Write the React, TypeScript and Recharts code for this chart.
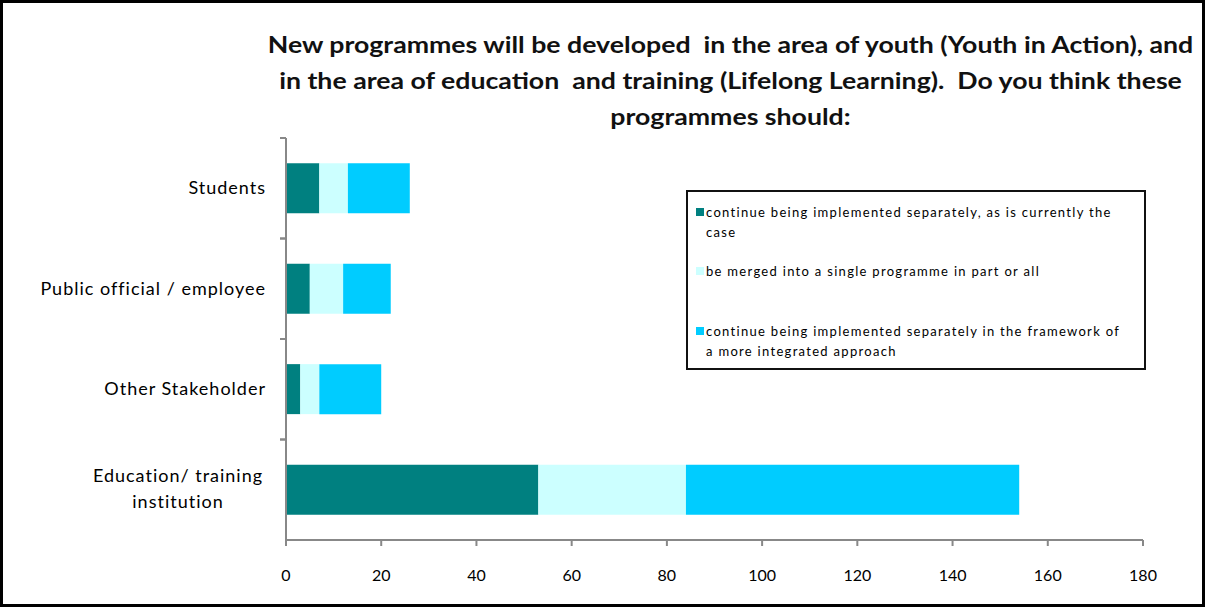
import React from 'react';
import { BarChart, Bar, XAxis, YAxis } from 'recharts';

const categories = ['Students', 'Public official / employee', 'Other Stakeholder', 'Education/ training institution'];
const separately = [7, 5, 3, 53];
const merged = [6, 7, 4, 31];
const integrated = [13, 10, 13, 70];
const xTicks = [0, 20, 40, 60, 80, 100, 120, 140, 160, 180];
const seriesNames = [
  'continue being implemented separately, as is currently the case',
  'be merged into a single programme in part or all',
  'continue being implemented separately in the framework of a more integrated approach',
];
const colors = ['#008080', '#CCFFFF', '#00CCFF'];
const titleLines = [
  'New programmes will be developed  in the area of youth (Youth in Action), and',
  'in the area of education  and training (Lifelong Learning).  Do you think these',
  'programmes should:',
];

const data = categories.map((c, i) => ({
  name: c,
  s0: separately[i],
  s1: merged[i],
  s2: integrated[i],
}));

const FONT = 'Lato, "Open Sans", sans-serif';

const YTick = (props: any) => {
  const { y, payload, index } = props;
  const v: string = payload.value;
  const half = payload && typeof payload.offset === 'number' && payload.offset > 0 ? payload.offset : 50;
  const tickMarks = (
    <g stroke="#888" strokeWidth={2}>
      <line x1={280} x2={286} y1={y - half} y2={y - half} />
      {index === categories.length - 1 ? null : <line x1={280} x2={286} y1={y + half} y2={y + half} />}
    </g>
  );
  if (v === 'Education/ training institution') {
    return (
      <g>
        {tickMarks}
        <text x={178} y={y - 8} textAnchor="middle" fontSize={18} letterSpacing={1} fontFamily={FONT} fill="#000">Education/ training</text>
        <text x={178} y={y + 18} textAnchor="middle" fontSize={18} letterSpacing={1} fontFamily={FONT} fill="#000">institution</text>
      </g>
    );
  }
  return (
    <g>
      {tickMarks}
      <text x={266} y={y} dy={6} textAnchor="end" fontSize={18} letterSpacing={1} fontFamily={FONT} fill="#000">{v}</text>
    </g>
  );
};

const LegendBox = () => (
  <div style={{
    position: 'absolute', left: 683, top: 187, width: 460, height: 180, border: '2px solid #111', boxSizing: 'border-box', background: '#fff',
    fontFamily: FONT, fontSize: 13, letterSpacing: 1.3, color: '#000',
  }}>
    {seriesNames.map((n, i) => (
      <div key={i} style={{ position: 'absolute', left: 8, top: [10, 69, 129][i], width: 440, display: 'flex', lineHeight: '20px' }}>
        <span style={{ display: 'inline-block', width: 8, height: 8, background: colors[i], marginTop: 6, marginRight: 2, flex: 'none' }} />
        <span style={{ width: 425 }}>{n}</span>
      </div>
    ))}
  </div>
);

export default function App() {
  return (
    <div style={{ position: 'absolute', left: 0, top: 0, width: 1205, height: 607, border: '3px solid #000', boxSizing: 'border-box', background: '#fff', overflow: 'hidden' }}>
      <div style={{ position: 'absolute', left: 0, top: 23, width: 1455, textAlign: 'center', fontFamily: FONT, fontWeight: 'bold', fontSize: 23, lineHeight: '36px', color: '#111' }}>
        {titleLines.map((t, i) => (
          <div key={i} style={{ whiteSpace: 'pre', transform: 'scaleX(1.16)' }}>{t}</div>
        ))}
      </div>
      <div style={{ position: 'absolute', left: -3, top: -3 }}>
        <BarChart
          width={1205}
          height={607}
          layout="vertical"
          data={data}
          margin={{ top: 138, right: 62, bottom: 27, left: 0 }}
          barCategoryGap="25%"
        >
          <XAxis
            type="number"
            domain={[0, 180]}
            ticks={xTicks}
            interval={0}
            height={40}
            axisLine={{ stroke: '#888', strokeWidth: 2 }}
            tickLine={{ stroke: '#888', strokeWidth: 2 }}
            tickSize={6}
            tick={{ fontSize: 16, fontFamily: FONT, fill: '#000', dy: 22 }}
          />
          <YAxis
            type="category"
            dataKey="name"
            width={286}
            interval={0}
            axisLine={{ stroke: '#888', strokeWidth: 2 }}
            tickLine={false}
            tick={<YTick />}
          />
          <Bar dataKey="s0" name={seriesNames[0]} stackId="a" fill={colors[0]} isAnimationActive={false} />
          <Bar dataKey="s1" name={seriesNames[1]} stackId="a" fill={colors[1]} isAnimationActive={false} />
          <Bar dataKey="s2" name={seriesNames[2]} stackId="a" fill={colors[2]} isAnimationActive={false} />
        </BarChart>
      </div>
      <LegendBox />
    </div>
  );
}
